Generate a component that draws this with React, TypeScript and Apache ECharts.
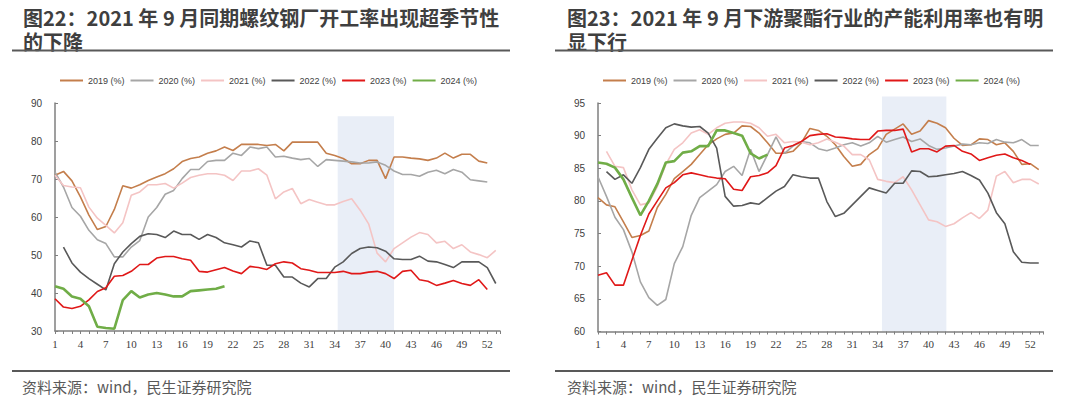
import React, { useEffect, useRef } from 'react';
import * as echarts from 'echarts';

// ---------- data ----------
const seriesNames = ['2019 (%)', '2020 (%)', '2021 (%)', '2022 (%)', '2023 (%)', '2024 (%)'];
const seriesColors = ['#C47E4C', '#A6A6A6', '#F4C4C4', '#595959', '#E01818', '#70AD47'];

const titleLeft = '图22：2021 年 9 月同期螺纹钢厂开工率出现超季节性\n的下降';
const titleRight = '图23：2021 年 9 月下游聚酯行业的产能利用率也有明\n显下行';
const sourceText = '资料来源：wind，民生证券研究院';

// 螺纹钢厂开工率 (weekly, week 1 ..)
const rebar2019 = [71, 72, 69.5, 65.3, 60.5, 56.7, 57.5, 62, 68.2, 67.6, 68.5, 69.6, 70.5, 71.4, 72.7, 74.6, 75.4, 75.8, 76.8, 77.4, 78.4, 77.5, 79.1, 79.1, 79.1, 78.8, 79.1, 77.4, 79.7, 79.7, 79.7, 79.7, 76.8, 76.2, 75.4, 74, 74, 74.9, 74.9, 70.1, 75.8, 75.8, 75.5, 75.3, 74.9, 75.5, 76.8, 75.5, 76.5, 76.5, 74.7, 74.2];
const rebar2020 = [71.8, 67.9, 62.5, 60.2, 56.5, 54, 53, 49.5, 49.5, 52.1, 53.8, 60, 62.5, 66, 67, 70.1, 72.5, 72.5, 74.6, 74.9, 74.9, 76.8, 76.2, 78.4, 78, 78.4, 75.8, 76, 75.5, 75.1, 75.4, 73.3, 75.1, 74.9, 74.7, 74.5, 74.2, 74.2, 74.5, 73.6, 72.1, 71.2, 71.2, 70.7, 71.8, 72.3, 71.4, 72.5, 71.8, 69.8, 69.5, 69.2];
const rebar2021 = [71, 68.3, 67.9, 67.7, 62.6, 59.7, 57.8, 55.8, 58.5, 65.7, 66.6, 68.5, 68.5, 68.8, 67.6, 68.9, 70.4, 71, 71.4, 71.4, 71, 69.6, 72.1, 72.1, 72.7, 71, 64.8, 66.6, 67.5, 63.5, 64.6, 63.9, 63.2, 63.2, 64.1, 64.8, 61.8, 58.2, 50.5, 48.2, 51.7, 53.2, 54.7, 55.9, 55.4, 53.2, 53.6, 51.7, 52.7, 50.8, 50.1, 49.3, 51.2];
const rebar2022 = [null, 52.1, 47.9, 45.5, 43.8, 42.3, 40.8, 47.7, 50.8, 53, 54.9, 55.6, 55.4, 54.6, 56.3, 55.4, 55.4, 54.1, 55.4, 54.6, 53.2, 52.7, 52.1, 53.7, 53.2, 47.3, 47.3, 44.2, 44.2, 42.6, 41.6, 43.8, 43.8, 46.8, 48.2, 50.4, 51.7, 52.1, 51.9, 51, 49, 48.8, 48.8, 49.7, 48.4, 48.2, 47.5, 46.7, 48.2, 48.2, 48.2, 46.7, 42.5];
const rebar2023 = [38.5, 36.3, 35.9, 36.5, 38.2, 40.4, 41.4, 44.4, 44.6, 45.7, 47.5, 47.5, 49.2, 49.6, 49.6, 49, 48.6, 45.7, 45.5, 46.1, 46.7, 45.8, 45.1, 47, 46.7, 46.2, 47.7, 48.2, 47.9, 46.4, 46, 45.4, 45.4, 45.4, 45.7, 45.1, 45.1, 45.5, 45.7, 45.1, 43.8, 45.7, 46, 43.5, 43.1, 42, 42.6, 43.3, 42.5, 42, 43.5, 40.9];
const rebar2024 = [41.8, 41.1, 39.1, 38.5, 36.5, 31.1, 30.8, 30.6, 38.1, 40.5, 38.8, 39.6, 40, 39.6, 39.1, 39.1, 40.5, 40.7, 40.9, 41.1, 41.8];

// 聚酯产能利用率 (weekly, week 1 ..)
const poly2019 = [80.5, 79.4, 79.1, 76.8, 74.4, 74.7, 75.4, 79, 81, 83.4, 84.5, 85.6, 87.1, 88.6, 89.5, 90.2, 90.4, 91.5, 91.4, 90.4, 88.9, 87.3, 87.3, 87.6, 88.9, 91.1, 90.8, 89.9, 88.6, 86.8, 85.3, 85.6, 87.1, 88, 90.2, 91, 91.8, 90.2, 90.7, 92.3, 91.9, 91.2, 89.6, 88.5, 88.6, 89.5, 89.4, 88.6, 88.9, 87.6, 85.6, 85.7, 84.8];
const poly2020 = [83.7, 80.7, 77.5, 75.6, 72.2, 67.6, 65.2, 64, 64.9, 70.4, 73, 77.8, 80.5, 81.5, 82.5, 84.5, 85.3, 83.9, 87.9, 84.5, 87.1, 89.8, 87.3, 88.4, 89.1, 88.9, 88, 87.7, 88.1, 88.6, 88.9, 88.4, 88.9, 89.9, 89, 89.4, 89.8, 89.1, 89.5, 88.5, 87.9, 88.1, 88.4, 88.7, 88.6, 88.9, 88.8, 89.4, 89, 88.9, 89.4, 88.5, 88.5];
const poly2021 = [null, 87.6, 85.3, 85.1, 81.7, 79.4, 79.7, 82.2, 85.6, 87.9, 88.9, 90.4, 90.9, 90.2, 91.2, 91.9, 92.1, 92.1, 91.9, 91.2, 89.9, 90.2, 88.9, 89.1, 89, 88.6, 88.9, 89.5, 89, 88.4, 87.1, 87.1, 86.3, 83.3, 83, 82.8, 83.7, 81.7, 79.4, 77.1, 76.8, 76.1, 76.5, 77.4, 78.2, 77.3, 78.6, 83.8, 84.5, 82.8, 83.3, 83.3, 82.6];
const poly2022 = [null, 84.5, 83.3, 84, 82.7, 85.1, 87.9, 89.6, 91.2, 91.8, 91.5, 91.3, 91.4, 90.4, 88.1, 80.7, 79.2, 79.3, 79.7, 79.5, 80.5, 81.5, 82.2, 84, 83.7, 83.5, 83.5, 79.9, 77.6, 78.1, 79.4, 80.7, 82, 81.6, 81.2, 82.7, 82.7, 84.6, 84.5, 83.7, 83.8, 84, 84.2, 84.5, 83.9, 83.2, 81.2, 78.2, 76.5, 72.2, 70.6, 70.5, 70.5];
const poly2023 = [68.6, 69, 67.1, 67.1, 70.9, 74.7, 78, 80, 82, 82.8, 84, 84.3, 84, 83.7, 83.5, 83.4, 81.8, 81.6, 83.7, 83.9, 84.3, 85.4, 88.1, 88.5, 89.1, 90, 90.2, 90.3, 89.8, 89.7, 89.5, 89.4, 89.4, 90.7, 90.8, 90.8, 91, 87.5, 88, 88, 87.5, 88.4, 88.5, 87.6, 87.2, 86.2, 86.6, 87, 87.2, 86.6, 86.2, 85.6];
const poly2024 = [85.9, 85.7, 85.1, 83.3, 80.5, 77.8, 80, 82.6, 85.9, 86.1, 87.4, 87.6, 88.4, 88.4, 90.8, 90.8, 90.4, 90, 87.3, 86.5, 87.1];

// shaded periods (week from, week to, top value)
const rebarShade = [34.35, 41, 86.5];
const polyShade = [34.5, 42.1, 96];

const rebarY = [30, 90, 10];
const polyY = [60, 95, 5];
const weekRange = [1, 53.5];

// ---------- helpers ----------
const toPairs = (arr: (number | null)[]) => {
  const out: number[][] = [];
  arr.forEach((v, i) => {
    if (v !== null && v !== undefined) out.push([i + 1, v]);
  });
  return out;
};

const axisColor = '#7f7f7f';

export default function App() {
  const ref = useRef<HTMLDivElement>(null);

  useEffect(() => {
    if (!ref.current) return;
    const chart = echarts.init(ref.current, undefined, { renderer: 'svg' });

    const plotTop = 103;
    const plotH = [228, 228.5];
    const yRanges = [rebarY, polyY];
    const shades = [rebarShade, polyShade];

    const grids: any[] = [
      { left: 55, top: plotTop, width: 445, height: plotH[0] },
      { left: 598, top: plotTop, width: 445, height: plotH[1] },
    ];
    // helper grids for the shaded areas (same scale, extended upward when needed)
    [0, 1].forEach((g) => {
      const r = yRanges[g];
      const pxPerUnit = plotH[g] / (r[1] - r[0]);
      const topVal = Math.max(r[1], shades[g][2]);
      const extra = (topVal - r[1]) * pxPerUnit;
      grids.push({ left: grids[g].left, top: plotTop - extra, width: 445, height: plotH[g] + extra });
    });

    const xAxis: any[] = [0, 1].map((g) => ({
      type: 'value',
      gridIndex: g,
      min: weekRange[0],
      max: weekRange[1],
      interval: 1,
      axisLine: { show: true, onZero: false, lineStyle: { color: axisColor, width: 1.5 } },
      axisTick: { show: true, length: 3, lineStyle: { color: axisColor, width: 1 } },
      axisLabel: {
        formatter: (v: number) => (Number.isInteger(v) && (v - 1) % 3 === 0 ? String(v) : ''),
        fontFamily: '"Liberation Serif", serif',
        fontSize: 11,
        color: '#404040',
        margin: 7,
      },
      splitLine: { show: false },
      z: 3,
    }));
    [0, 1].forEach((g) => {
      xAxis.push({ type: 'value', gridIndex: g + 2, min: weekRange[0], max: weekRange[1], show: false });
    });

    const yAxis: any[] = yRanges.map((r, g) => ({
      type: 'value',
      gridIndex: g,
      min: r[0],
      max: r[1],
      interval: r[2],
      axisLine: { show: true, onZero: false, lineStyle: { color: axisColor, width: 1.5 } },
      axisTick: { show: true, inside: true, length: 3, lineStyle: { color: axisColor } },
      axisLabel: {
        fontFamily: '"Liberation Sans", sans-serif',
        fontSize: 10,
        color: '#404040',
        margin: 13,
      },
      splitLine: { show: false },
      z: 3,
    }));
    [0, 1].forEach((g) => {
      yAxis.push({
        type: 'value',
        gridIndex: g + 2,
        min: yRanges[g][0],
        max: Math.max(yRanges[g][1], shades[g][2]),
        show: false,
      });
    });

    const groups = [
      [rebar2019, rebar2020, rebar2021, rebar2022, rebar2023, rebar2024],
      [poly2019, poly2020, poly2021, poly2022, poly2023, poly2024],
    ];

    const series: any[] = [];
    [0, 1].forEach((g) => {
      series.push({
        type: 'line',
        name: 'shade' + g,
        xAxisIndex: g + 2,
        yAxisIndex: g + 2,
        data: [],
        silent: true,
        z: 0,
        markArea: {
          silent: true,
          itemStyle: { color: '#E9EEF7' },
          data: [[
            { xAxis: shades[g][0], yAxis: yRanges[g][0] },
            { xAxis: shades[g][1], yAxis: shades[g][2] },
          ]],
        },
      });
    });
    [0, 1].forEach((g) => {
      groups[g].forEach((arr, i) => {
        series.push({
          type: 'line',
          name: seriesNames[i],
          xAxisIndex: g,
          yAxisIndex: g,
          data: toPairs(arr),
          showSymbol: false,
          symbol: 'none',
          lineStyle: { color: seriesColors[i], width: i === 5 ? 2.6 : 1.6 },
          itemStyle: { color: seriesColors[i] },
        });
      });
    });

    const legendBase = {
      data: seriesNames,
      icon: 'rect',
      itemWidth: 23,
      itemHeight: 2,
      itemGap: 6,
      top: 71,
      textStyle: { fontFamily: '"Liberation Sans", sans-serif', fontSize: 9, color: '#404040' },
      selectedMode: false,
    };

    const titleStyle = {
      font: 'bold 20px "Noto Sans CJK SC", sans-serif',
      fill: '#3f3f3f',
      lineHeight: 24,
      verticalAlign: 'top',
    };
    const srcFont = '15px "Noto Sans CJK SC", sans-serif';

    const graphic = [
      { type: 'text', x: 23, y: 5, style: { text: titleLeft, ...titleStyle } },
      { type: 'text', x: 567, y: 5, style: { text: titleRight, ...titleStyle } },
      { type: 'line', shape: { x1: 12, y1: 50.5, x2: 510, y2: 50.5 }, style: { stroke: '#595959', lineWidth: 2 } },
      { type: 'line', shape: { x1: 555, y1: 50.5, x2: 1053, y2: 50.5 }, style: { stroke: '#595959', lineWidth: 2 } },
      { type: 'line', shape: { x1: 12, y1: 371, x2: 510, y2: 371 }, style: { stroke: '#595959', lineWidth: 2 } },
      { type: 'line', shape: { x1: 555, y1: 371, x2: 1053, y2: 371 }, style: { stroke: '#595959', lineWidth: 2 } },
      { type: 'text', x: 22, y: 386, style: { text: sourceText, font: srcFont, fill: '#595959', verticalAlign: 'middle' } },
      { type: 'text', x: 567, y: 386, style: { text: sourceText, font: srcFont, fill: '#595959', verticalAlign: 'middle' } },
    ];

    chart.setOption({
      animation: false,
      backgroundColor: '#ffffff',
      grid: grids,
      xAxis,
      yAxis,
      legend: [
        { ...legendBase, left: 55 },
        { ...legendBase, left: 598 },
      ],
      series,
      graphic,
    });

    return () => chart.dispose();
  }, []);

  return (
    <div
      ref={ref}
      style={{ position: 'fixed', left: 0, top: 0, width: 1080, height: 401, background: '#fff' }}
    />
  );
}
